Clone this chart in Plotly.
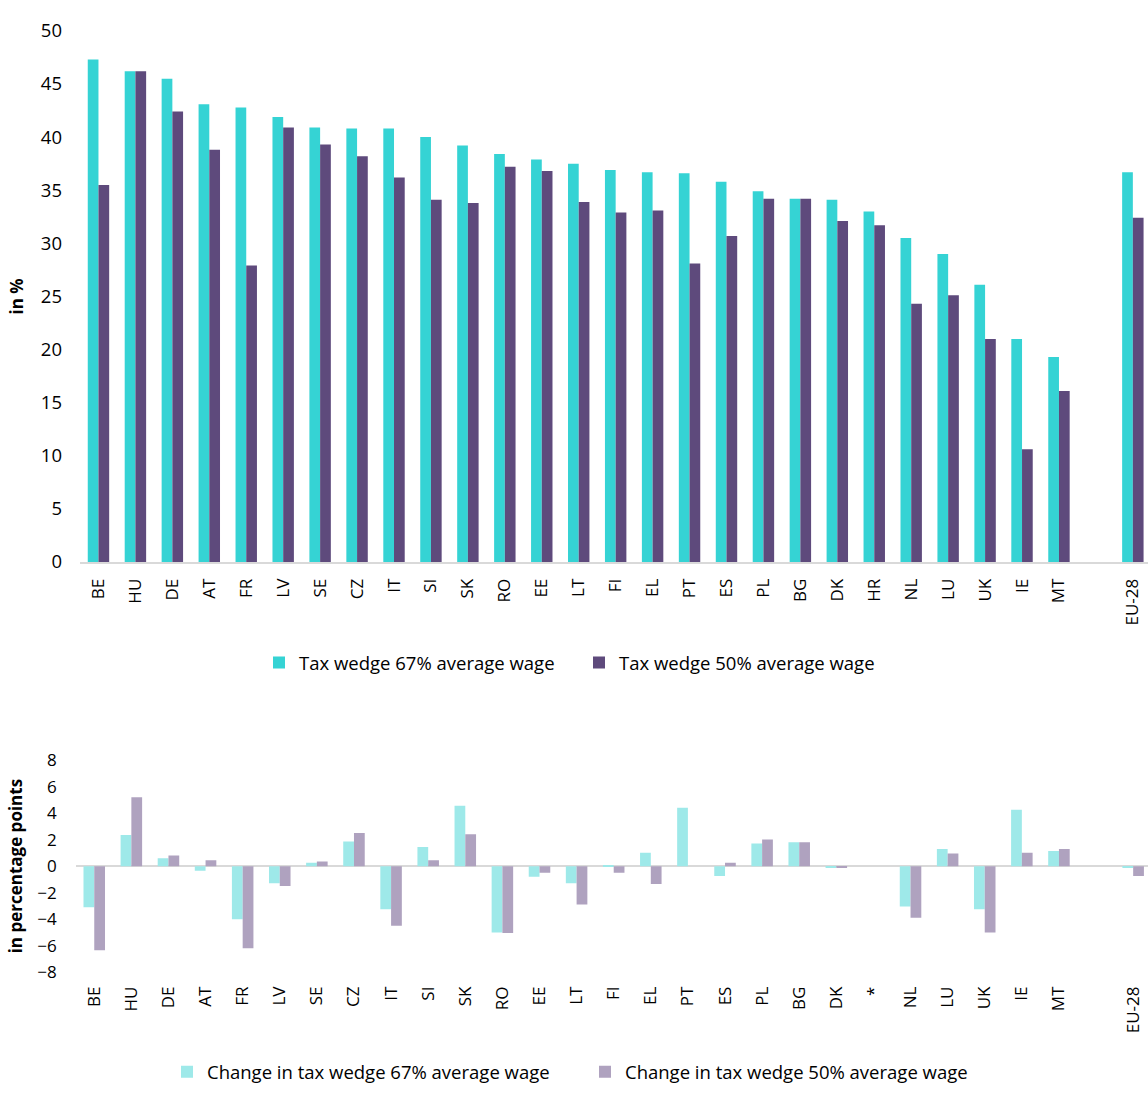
import plotly.graph_objects as go

# Tax wedge levels by country (in %)
countries = ["BE", "HU", "DE", "AT", "FR", "LV", "SE", "CZ", "IT", "SI", "SK", "RO", "EE", "LT",
             "FI", "EL", "PT", "ES", "PL", "BG", "DK", "HR", "NL", "LU", "UK", "IE", "MT", "EU-28"]
wedge_67 = [47.3, 46.2, 45.5, 43.1, 42.8, 41.9, 40.9, 40.8, 40.8, 40.0, 39.2, 38.4, 37.9, 37.5,
            36.9, 36.7, 36.6, 35.8, 34.9, 34.2, 34.1, 33.0, 30.5, 29.0, 26.1, 21.0, 19.3, 36.7]
wedge_50 = [35.5, 46.2, 42.4, 38.8, 27.9, 40.9, 39.3, 38.2, 36.2, 34.1, 33.8, 37.2, 36.8, 33.9,
            32.9, 33.1, 28.1, 30.7, 34.2, 34.2, 32.1, 31.7, 24.3, 25.1, 21.0, 10.6, 16.1, 32.4]

# Change in the tax wedge (in percentage points); no data for the "*" entry
countries_change = ["BE", "HU", "DE", "AT", "FR", "LV", "SE", "CZ", "IT", "SI", "SK", "RO", "EE", "LT",
                    "FI", "EL", "PT", "ES", "PL", "BG", "DK", "*", "NL", "LU", "UK", "IE", "MT", "EU-28"]
change_67 = [-3.1, 2.35, 0.6, -0.35, -4.0, -1.3, 0.25, 1.85, -3.25, 1.45, 4.55, -5.0, -0.8, -1.3,
             0.05, 1.0, 4.4, -0.75, 1.7, 1.8, -0.1, None, -3.05, 1.3, -3.25, 4.25, 1.15, -0.1]
change_50 = [-6.35, 5.2, 0.8, 0.45, -6.2, -1.5, 0.35, 2.5, -4.5, 0.45, 2.4, -5.05, -0.5, -2.9,
             -0.5, -1.35, 0.0, 0.25, 2.0, 1.8, -0.1, None, -3.9, 0.95, -5.0, 1.0, 1.3, -0.75]

y_ticks_top = [0, 5, 10, 15, 20, 25, 30, 35, 40, 45, 50]
y_ticks_bottom = [-8, -6, -4, -2, 0, 2, 4, 6, 8]

TEAL = "#35D3D4"
PURPLE = "#5E4A7C"
TEAL_LIGHT = "#9EE9E9"
PURPLE_LIGHT = "#AFA2BF"

# one empty slot separates the EU-28 aggregate from the member states
xpos = list(range(len(countries) - 1)) + [len(countries)]

W, H = 1148, 1097
FONT = "Open Sans"

fig = go.Figure()
fig.add_trace(go.Bar(x=xpos, y=wedge_67, name="Tax wedge 67% average wage",
                     marker=dict(color=TEAL, line=dict(width=0)), xaxis="x", yaxis="y", legend="legend"))
fig.add_trace(go.Bar(x=xpos, y=wedge_50, name="Tax wedge 50% average wage",
                     marker=dict(color=PURPLE, line=dict(width=0)), xaxis="x", yaxis="y", legend="legend"))
fig.add_trace(go.Bar(x=xpos, y=change_67, name="Change in tax wedge 67% average wage",
                     marker=dict(color=TEAL_LIGHT, line=dict(width=0)), xaxis="x2", yaxis="y2", legend="legend2"))
fig.add_trace(go.Bar(x=xpos, y=change_50, name="Change in tax wedge 50% average wage",
                     marker=dict(color=PURPLE_LIGHT, line=dict(width=0)), xaxis="x2", yaxis="y2", legend="legend2"))

ML = 75
PW = W - ML


def px_x(p):
    return (p - ML) / PW


def px_y(p):
    return (H - p) / H


black = "#000000"
tick_font = dict(family=FONT, size=18.5, color=black)
cat_font = dict(family=FONT, size=17, color=black)
title_font = dict(family=FONT, size=17, color=black)
legend_font = dict(family=FONT, size=18.5, color=black)

fig.update_layout(
    width=W, height=H,
    margin=dict(l=ML, r=0, t=0, b=0),
    paper_bgcolor="white", plot_bgcolor="white",
    barmode="group", bargap=0.42, bargroupgap=0,
    showlegend=True,
    xaxis=dict(domain=[px_x(80), 1], anchor="y", range=[-0.5, 28.41],
               tickmode="array", tickvals=xpos, ticktext=countries, tickangle=-90,
               tickfont=cat_font, showgrid=False, zeroline=False,
               showline=True, linecolor="#D9D9D9", linewidth=2, ticks="", ticklabelstandoff=8),
    yaxis=dict(domain=[px_y(560.7), px_y(17.3)], anchor="x", range=[0, 50],
               tickmode="array", tickvals=y_ticks_top, tickfont=tick_font,
               showgrid=False, zeroline=False, showline=False, ticks="",
               ticklabelstandoff=17,
               title=dict(text="<b>in %</b>", font=title_font, standoff=12)),
    xaxis2=dict(domain=[px_x(75.7), 1], anchor="y2", range=[-0.5, 28.4],
                tickmode="array", tickvals=xpos, ticktext=countries_change, tickangle=-90,
                tickfont=cat_font, showgrid=False, zeroline=False, showline=False,
                ticks="", ticklabelstandoff=10),
    yaxis2=dict(domain=[px_y(980.5), px_y(763.5)], anchor="x2", range=[-8, 8],
                tickmode="array", tickvals=y_ticks_bottom, tickfont=dict(family=FONT, size=17, color=black),
                showgrid=False, zeroline=True, zerolinecolor="#D9D9D9", zerolinewidth=2,
                showline=False, ticks="", ticklabelstandoff=18,
                title=dict(text="<b>in percentage points</b>", font=title_font, standoff=10)),
    legend=dict(orientation="h", xanchor="left", x=px_x(259), yanchor="middle", y=px_y(664),
                entrywidth=275, entrywidthmode="pixels", itemwidth=30,
                font=legend_font, bgcolor="rgba(0,0,0,0)", traceorder="normal"),
    legend2=dict(orientation="h", xanchor="left", x=px_x(167), yanchor="middle", y=px_y(1083),
                 entrywidth=373, entrywidthmode="pixels", itemwidth=30,
                 font=legend_font, bgcolor="rgba(0,0,0,0)", traceorder="normal"),
)

fig.write_html("out.html")
